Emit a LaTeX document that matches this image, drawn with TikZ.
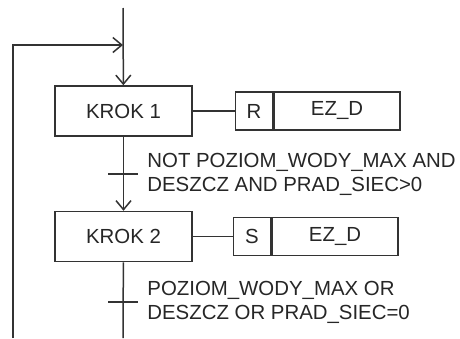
\documentclass[tikz,border=0pt]{standalone}
\usepackage{fontspec}
\setmainfont{Liberation Sans}
\usetikzlibrary{positioning,arrows.meta}
\definecolor{linegray}{HTML}{333333}
\tikzset{
	krok/.style={draw=linegray,line width=0.75pt,minimum width=68.5pt,minimum height=25pt,inner sep=0pt},
	kwal/.style={draw=linegray,line width=0.75pt,minimum width=18.5pt,minimum height=19pt,inner sep=0pt},
	akcja/.style={draw=linegray,line width=0.75pt,minimum width=63pt,minimum height=19pt,inner sep=0pt},
	warunek/.style={align=left,inner sep=0pt,anchor=west},
	polacz/.style={draw=linegray,line width=0.75pt},
	strz/.style={polacz,-{Straight Barb[length=4.5pt,width=7.5pt]}}
}
\begin{document}
\begin{tikzpicture}[x=0.5pt,y=-0.5pt,font=\fontsize{10.2}{12}\selectfont,text=black!85]
	\useasboundingbox (0,0) rectangle (460,338);
	% kroki
	\node[krok] (krok1) at (123.5,111) {KROK 1};
	\node[krok] (krok2) at (123.5,236.5) {KROK 2};
	% akcje
	\node[kwal,right=21pt of krok1] (kw1) {R};
	\node[akcja,right=0pt of kw1] (ak1) {EZ\_D};
	\node[kwal,right=20pt of krok2] (kw2) {S};
	\node[akcja,right=0pt of kw2] (ak2) {EZ\_D};
	\draw[polacz] (krok1) -- (kw1);
	\draw[polacz] (krok2) -- (kw2);
	% polaczenia
	\coordinate (gora) at (123,8);
	\coordinate (zbieg) at (123,45);
	\coordinate (lewo) at (13,45);
	\coordinate (lewodol) at (13,338);
	\coordinate (t1) at (123,174);
	\coordinate (t2) at (123,302);
	\coordinate (dol) at (123,338);
	\draw[strz] (gora) -- (krok1);
	\draw[strz] (lewodol) -- (lewo) -- (zbieg);
	\draw[strz] (krok1) -- (krok2);
	\draw[polacz] (krok2) -- (dol);
	% przejscia
	\draw[polacz] ([xshift=-7.5pt]t1) -- ([xshift=7.5pt]t1);
	\draw[polacz] ([xshift=-7.5pt]t2) -- ([xshift=7.5pt]t2);
	\node[warunek] (w1) at ([xshift=12pt]t1) {NOT POZIOM\_WODY\_MAX AND\\DESZCZ AND PRAD\_SIEC>0};
	\node[warunek] (w2) at ([xshift=12pt]t2) {POZIOM\_WODY\_MAX OR\\DESZCZ OR PRAD\_SIEC=0};
\end{tikzpicture}
\end{document}
